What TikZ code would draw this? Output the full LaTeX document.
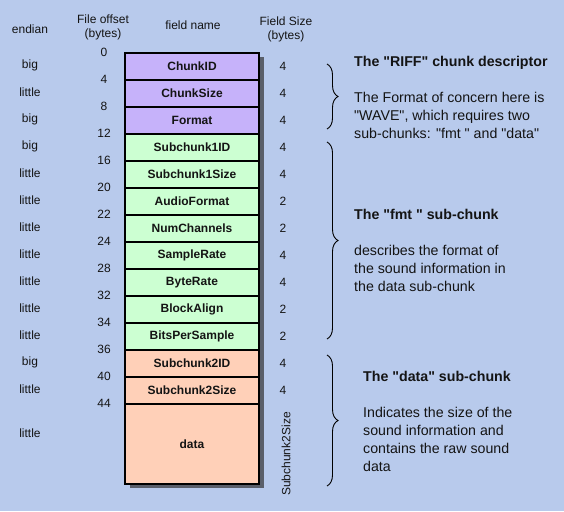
\documentclass[tikz,border=0pt]{standalone}
\usepackage{fontspec}
\setmainfont{Liberation Sans}
\usepackage{tikz}
\usetikzlibrary{positioning, decorations.pathreplacing}
\usepackage{xcolor}
\definecolor{bgcolor}{HTML}{B8CAEC}
\definecolor{riffcol}{HTML}{C6B2FA}
\definecolor{fmtcol}{HTML}{CCFFD2}
\definecolor{datcol}{HTML}{FFD0B8}
\definecolor{shadecol}{HTML}{5A5F6A}
\definecolor{inkcol}{HTML}{141414}
\newcommand{\qq}{\textquotedbl}

\pgfdeclarelayer{canvas}
\pgfdeclarelayer{shade}
\pgfsetlayers{canvas,shade,main}

\begin{document}
\begin{tikzpicture}[
    x=1pt, y=-1pt,
    every node/.style={text=inkcol},
    field/.style={draw, line width=1.4pt, minimum width=134pt, minimum height=27pt,
      inner sep=0pt, outer sep=0pt, font=\bfseries\fontsize{12}{14}\selectfont},
    colhead/.style={align=center, font=\fontsize{12}{14}\selectfont},
    plain/.style={font=\fontsize{12}{14}\selectfont, inner sep=0pt},
    note/.style={align=left, anchor=north west, inner sep=0pt, font=\fontsize{14.2}{18}\selectfont},
    curly/.style={decorate, decoration={brace, amplitude=11pt}, line width=0.9pt}
]
  % page and background
  \begin{pgfonlayer}{canvas}
    \fill[bgcolor] (0,0) rectangle (564,511);
  \end{pgfonlayer}
  \useasboundingbox (0,0) rectangle (564,511);

  % column headings
  \node[colhead] (hendian) at (30,29) {endian};
  \node[colhead] (hoffset) at (103,27) {File offset\\(bytes)};
  \node[colhead] (hname) at (193,25) {field name};
  \node[colhead] (hsize) at (286,29) {Field Size\\(bytes)};

  \coordinate (ecol) at (30,0);
  \coordinate (ocol) at (104,0);
  \coordinate (scol) at (283,0);
  \coordinate (top) at (192,53);

  % the header fields, one below the other
  \foreach \n/\lab/\col/\e/\s/\o [remember=\n as \prev (initially top)] in {
      chunkid/ChunkID/riffcol/big/4/0,
      chunksize/ChunkSize/riffcol/little/4/4,
      format/Format/riffcol/big/4/8,
      subid1/Subchunk1ID/fmtcol/big/4/12,
      subsize1/Subchunk1Size/fmtcol/little/4/16,
      audiofmt/AudioFormat/fmtcol/little/2/20,
      numch/NumChannels/fmtcol/little/2/22,
      srate/SampleRate/fmtcol/little/4/24,
      brate/ByteRate/fmtcol/little/4/28,
      balign/BlockAlign/fmtcol/little/2/32,
      bps/BitsPerSample/fmtcol/little/2/34,
      subid2/Subchunk2ID/datcol/big/4/36,
      subsize2/Subchunk2Size/datcol/little/4/40} {
    \node[field, fill=\col, below=0pt of \prev] (\n) {\lab};
    \node[plain, yshift=1pt] (e-\n) at (ecol |- \n) {\e};
    \node[plain] (s-\n) at (scol |- \n) {\s};
    \node[plain, yshift=1pt] (o-\n) at (ocol |- \n.north) {\o};
  }

  % the sound data itself
  \node[field, fill=datcol, minimum height=80pt, below=0pt of subsize2] (data) {data};
  \node[plain, yshift=11pt] (e-data) at (ecol |- data) {little};
  \node[plain, yshift=1pt] (o-data) at (ocol |- data.north) {44};
  \node[plain, rotate=90, xshift=-10pt, yshift=-3pt] (s-data) at (scol |- data) {Subchunk2Size};

  % drop shadow
  \begin{pgfonlayer}{shade}
    \fill[shadecol] ([shift={(5,4)}]chunkid.north west) rectangle ([shift={(5,4)}]data.south east);
  \end{pgfonlayer}

  % braces
  \draw[curly] ([shift={(68,11)}]chunkid.north east) -- ([shift={(68,-5)}]format.south east);
  \draw[curly] ([shift={(68,8)}]subid1.north east) -- ([shift={(68,-11)}]bps.south east);
  \draw[curly] ([shift={(68,5)}]subid2.north east) -- ([shift={(68,2)}]data.south east);

  % notes
  \node[note] (riffnote) at (354,56) {\textbf{The \qq RIFF\qq\ chunk descriptor}\\[18pt]
    The Format of concern here is\\\qq WAVE\qq, which requires two\\sub-chunks: \qq fmt \qq\ and \qq data\qq};
  \node[note] (fmtnote) at (354,209) {\textbf{The \qq fmt \qq\ sub-chunk}\\[18pt]
    describes the format of\\the sound information in\\the data sub-chunk};
  \node[note] (datanote) at (363,371) {\textbf{The \qq data\qq\ sub-chunk}\\[18pt]
    Indicates the size of the\\sound information and\\contains the raw sound\\data};
\end{tikzpicture}
\end{document}
